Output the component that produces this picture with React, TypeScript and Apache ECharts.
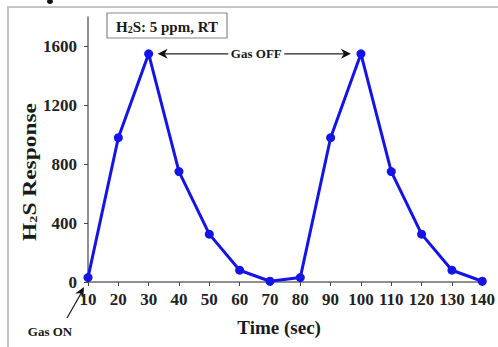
import React, { useEffect, useRef } from "react";
import * as echarts from "echarts";

const xValues = [10, 20, 30, 40, 50, 60, 70, 80, 90, 100, 110, 120, 130, 140];
const responses = [30, 980, 1550, 750, 325, 80, 5, 30, 980, 1550, 750, 325, 80, 5];
const yTicks = [0, 400, 800, 1200, 1600];
const xTicks = [10, 20, 30, 40, 50, 60, 70, 80, 90, 100, 110, 120, 130, 140];

const serif = "'Liberation Serif', 'Times New Roman', serif";

export default function App() {
  const ref = useRef<HTMLDivElement>(null);
  useEffect(() => {
    if (!ref.current) return;
    const chart = echarts.init(ref.current, null, { renderer: "svg" });
    const data = xValues.map((x, i) => [x, responses[i]]);
    chart.setOption({
      animation: false,
      backgroundColor: "#fff",
      grid: { left: 88, right: 11, top: 17, bottom: 65 },
      xAxis: {
        type: "value",
        min: 10,
        max: 140,
        interval: 10,
        name: "Time (sec)",
        nameLocation: "middle",
        nameGap: 36,
        nameTextStyle: { fontFamily: serif, fontWeight: "bold", fontSize: 19, color: "#1a1a1a", padding: [0, 12, 0, 0] },
        axisLine: { show: true, lineStyle: { color: "#6b6b6b", width: 1.5 } },
        axisTick: { show: true, length: 4, lineStyle: { color: "#444" } },
        axisLabel: {
          fontFamily: serif,
          fontWeight: "bold",
          fontSize: 17,
          color: "#222",
          margin: 9,
          customValues: xTicks,
          formatter: (v: number) => String(v),
        },
        splitLine: { show: false },
      },
      yAxis: {
        type: "value",
        min: 0,
        max: 1800,
        axisLine: { show: true, lineStyle: { color: "#6b6b6b", width: 1.5 } },
        axisTick: { show: true, length: 4, lineStyle: { color: "#444" }, customValues: yTicks },
        axisLabel: {
          fontFamily: serif,
          fontWeight: "bold",
          fontSize: 17,
          color: "#222",
          margin: 11,
          customValues: yTicks,
          formatter: (v: number) => String(v),
        },
        splitLine: { show: false },
      },
      series: [
        {
          type: "line",
          data,
          symbol: "circle",
          symbolSize: 9,
          lineStyle: { color: "#1414e6", width: 3 },
          itemStyle: { color: "#1414e6" },
          z: 3,
        },
      ],
    });

    const p1 = chart.convertToPixel({ gridIndex: 0 }, [xValues[2], responses[2]]) as number[];
    const p2 = chart.convertToPixel({ gridIndex: 0 }, [xValues[9], responses[9]]) as number[];
    const o = chart.convertToPixel({ gridIndex: 0 }, [xValues[0], 0]) as number[];
    const ay = p1[1];
    const lx = p1[0] + 9;
    const rx = p2[0] - 10;
    const midX = (lx + rx) / 2 + 2;

    chart.setOption({
      graphic: [
        { type: "rect", shape: { x: 8, y: 7, width: 520, height: 360 }, style: { fill: "none", stroke: "#c4c4c4", lineWidth: 2 }, silent: true },
        { type: "ellipse", shape: { cx: 50, cy: 1.5, rx: 3, ry: 2.5 }, style: { fill: "#111" }, silent: true },
        { type: "rect", shape: { x: 107, y: 13, width: 120, height: 25 }, style: { fill: "#fff", stroke: "#888", lineWidth: 1.2 } },
        {
          type: "text",
          x: 167,
          y: 26,
          style: {
            text: "{b|H}{s|2}{b|S: 5 ppm, RT}",
            align: "center",
            verticalAlign: "middle",
            rich: {
              b: { font: `bold 15px ${serif}`, fill: "#1a1a1a", verticalAlign: "bottom", lineHeight: 17 },
              s: { font: `bold 10px ${serif}`, fill: "#1a1a1a", verticalAlign: "bottom", lineHeight: 12 },
            },
          },
        },
        {
          type: "text",
          x: 29,
          y: 172,
          rotation: Math.PI / 2,
          scaleX: 1.3,
          style: {
            text: "{b|H}{s|2}{b|S Response}",
            align: "center",
            verticalAlign: "middle",
            rich: {
              b: { font: `bold 18px ${serif}`, fill: "#1a1a1a", verticalAlign: "bottom", lineHeight: 20 },
              s: { font: `bold 11px ${serif}`, fill: "#1a1a1a", verticalAlign: "bottom", lineHeight: 14 },
            },
          },
        },
        // Gas OFF arrow
        { type: "line", shape: { x1: lx + 6, y1: ay, x2: midX - 28, y2: ay }, style: { stroke: "#222", lineWidth: 1.2 } },
        { type: "line", shape: { x1: midX + 28, y1: ay, x2: rx - 6, y2: ay }, style: { stroke: "#222", lineWidth: 1.2 } },
        { type: "polygon", shape: { points: [[lx, ay], [lx + 10, ay - 5], [lx + 7, ay], [lx + 10, ay + 5]] }, style: { fill: "#111" } },
        { type: "polygon", shape: { points: [[rx, ay], [rx - 10, ay - 5], [rx - 7, ay], [rx - 10, ay + 5]] }, style: { fill: "#111" } },
        { type: "text", x: midX, y: ay, style: { text: "Gas OFF", align: "center", verticalAlign: "middle", font: `bold 13px ${serif}`, fill: "#1a1a1a" } },
        // Gas ON arrow
        { type: "line", shape: { x1: 67, y1: 318, x2: o[0] - 5, y2: o[1] + 8 }, style: { stroke: "#222", lineWidth: 1.3 } },
        {
          type: "polygon",
          shape: {
            points: (() => {
              const tx = o[0] - 4, ty = o[1] + 5;
              const dx = tx - 67, dy = ty - 318;
              const len = Math.hypot(dx, dy);
              const ux = dx / len, uy = dy / len;
              const bx = tx - ux * 10, by = ty - uy * 10;
              return [[tx, ty], [bx - uy * 4.5, by + ux * 4.5], [tx - ux * 7, ty - uy * 7], [bx + uy * 4.5, by - ux * 4.5]];
            })(),
          },
          style: { fill: "#111" },
        },
        { type: "text", x: 50, y: 331, style: { text: "Gas ON", align: "center", verticalAlign: "middle", font: `bold 13px ${serif}`, fill: "#1a1a1a" } },
      ],
    });
    return () => chart.dispose();
  }, []);
  return <div ref={ref} style={{ position: "fixed", left: 0, top: 0, width: 498, height: 347 }} />;
}
